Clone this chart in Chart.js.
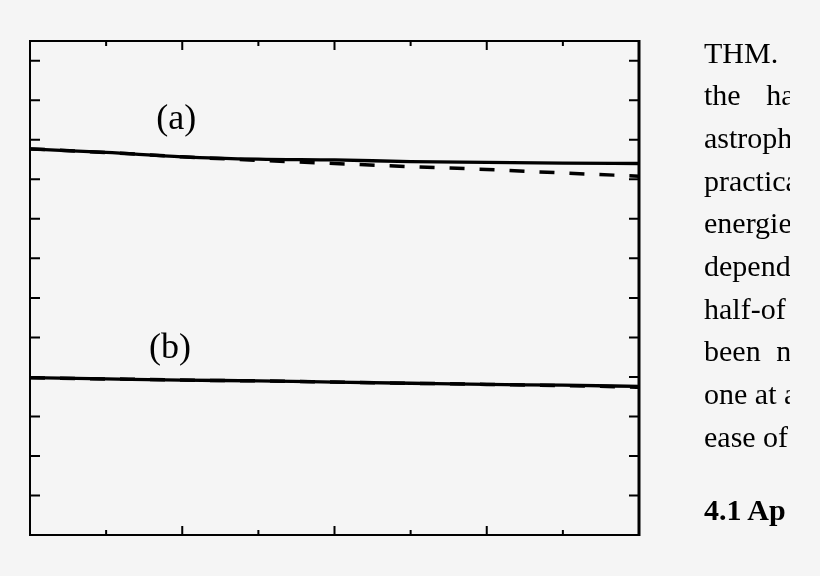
<!DOCTYPE html>
<html>
<head>
<meta charset="utf-8">
<script src="https://cdn.jsdelivr.net/npm/chart.js@4.4.1/dist/chart.umd.min.js"></script>
<style>
  html, body { margin: 0; padding: 0; background: #f5f5f5; }
  #wrap { position: relative; width: 820px; height: 576px; overflow: hidden; }
  #c { position: absolute; left: 0; top: 0; }
  #texte {
    position: absolute; left: 704px; top: 31.5px; width: 86px; overflow: hidden;
    font-family: "Liberation Serif", "Times New Roman", serif; font-size: 30px;
    line-height: 42.7px; color: #000; white-space: nowrap;
  }
  #titre {
    position: absolute; left: 704px; top: 488.5px; width: 86px; overflow: hidden;
    font-family: "Liberation Serif", "Times New Roman", serif; font-size: 30px;
    line-height: 42.7px; font-weight: bold; color: #000; white-space: nowrap;
  }
</style>
</head>
<body>
<div id="wrap">
  <canvas id="c" width="820" height="576"></canvas>
  <div id="texte">
    <div>THM.</div>
    <div style="word-spacing:18px">the ha</div>
    <div>astroph</div>
    <div>practica</div>
    <div>energie</div>
    <div>depend</div>
    <div>half-of</div>
    <div style="word-spacing:8px">been n</div>
    <div>one at a</div>
    <div>ease of</div>
  </div>
  <div id="titre">4.1 Ap</div>
</div>
<script>
// Données
const xValeurs = [0, 1, 2, 3, 4, 5, 6, 7, 8];
const courbeA = [9.77, 9.68, 9.57, 9.51, 9.49, 9.45, 9.43, 9.41, 9.40];
const courbeAPointillee = [9.77, 9.68, 9.57, 9.48, 9.40, 9.32, 9.25, 9.16, 9.08];
const courbeB = [3.98, 3.95, 3.92, 3.90, 3.87, 3.84, 3.81, 3.79, 3.76];
const courbeBPointillee = [3.98, 3.95, 3.92, 3.90, 3.87, 3.84, 3.81, 3.78, 3.74];
const ticksX = [1, 2, 3, 4, 5, 6, 7];
const ticksXMajeurs = [2, 4, 6];
const ticksY = [1, 2, 3, 4, 5, 6, 7, 8, 9, 10, 11, 12];
const etiquettes = [
    { texte: '(a)', x: 1.92, y: 10.5 },
    { texte: '(b)', x: 1.84, y: 4.72 }
];

const points = (ys) => xValeurs.map((x, i) => ({ x: x, y: ys[i] }));

// Cadre, graduations vers l'intérieur et étiquettes (a), (b)
const cadrePlugin = {
    id: 'cadre',
    afterDatasetsDraw(chart) {
        const { ctx, chartArea: a, scales: { x, y } } = chart;
        ctx.save();
        ctx.strokeStyle = '#000';
        ctx.lineCap = 'butt';

        ctx.lineWidth = 2;
        ctx.beginPath();
        ctx.moveTo(a.right, a.top); ctx.lineTo(a.left, a.top);
        ctx.lineTo(a.left, a.bottom); ctx.lineTo(a.right, a.bottom);
        ctx.stroke();
        ctx.lineWidth = 3;
        ctx.beginPath();
        ctx.moveTo(a.right, a.top - 1); ctx.lineTo(a.right, a.bottom + 1);
        ctx.stroke();

        ctx.lineWidth = 2;
        ctx.beginPath();
        ticksX.forEach(v => {
            const px = x.getPixelForValue(v);
            const len = ticksXMajeurs.includes(v) ? 9 : 5;
            ctx.moveTo(px, a.top); ctx.lineTo(px, a.top + len);
            ctx.moveTo(px, a.bottom); ctx.lineTo(px, a.bottom - len);
        });
        ticksY.forEach(v => {
            const py = y.getPixelForValue(v);
            ctx.moveTo(a.left, py); ctx.lineTo(a.left + 10, py);
            ctx.moveTo(a.right, py); ctx.lineTo(a.right - 10, py);
        });
        ctx.stroke();

        ctx.fillStyle = '#000';
        ctx.font = '36px "Liberation Serif", "Times New Roman", serif';
        ctx.textAlign = 'center';
        ctx.textBaseline = 'middle';
        etiquettes.forEach(e => {
            ctx.fillText(e.texte, x.getPixelForValue(e.x), y.getPixelForValue(e.y));
        });
        ctx.restore();
    }
};

const ctx = document.getElementById('c').getContext('2d');
const chart = new Chart(ctx, {
    type: 'line',
    data: {
        datasets: [
            { data: points(courbeAPointillee), borderDash: [15, 15], borderWidth: 3.5 },
            { data: points(courbeBPointillee), borderDash: [15, 15], borderWidth: 3.5 },
            { data: points(courbeA), borderWidth: 3.3 },
            { data: points(courbeB), borderWidth: 3.3 }
        ]
    },
    options: {
        responsive: false,
        animation: false,
        devicePixelRatio: 1,
        layout: { padding: { left: 30, right: 181, top: 41, bottom: 41 } },
        elements: {
            line: { borderColor: '#000', tension: 0.3, cubicInterpolationMode: 'monotone' },
            point: { radius: 0 }
        },
        plugins: { legend: { display: false }, tooltip: { enabled: false } },
        scales: {
            x: { type: 'linear', min: 0, max: 8, display: false },
            y: { type: 'linear', min: 0, max: 12.5, display: false }
        }
    },
    plugins: [cadrePlugin]
});
</script>
</body>
</html>
